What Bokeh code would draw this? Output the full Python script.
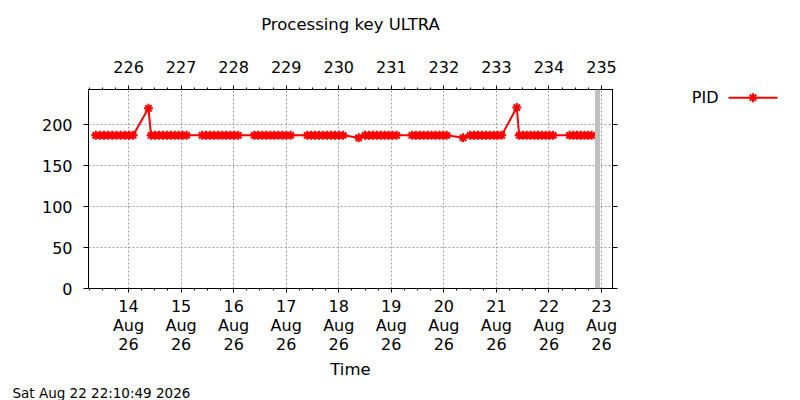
from datetime import datetime, timedelta
from bokeh.plotting import figure
from bokeh.layouts import row
from bokeh.core.properties import value
from bokeh.models import (Range1d, LinearAxis, FixedTicker, Grid, Span, Title,
                          ColumnDataSource)
from bokeh.embed import file_html
from bokeh.resources import INLINE

# ---------------- data ----------------
title_text = "Processing key ULTRA"
series_name = "PID"
x_title = "Time"
footer_text = "Sat Aug 22 22:10:49 2026"
base_time = datetime(2026, 8, 13, 0, 0, 0)
now_time = datetime(2026, 8, 22, 22, 10, 49)
x_start = datetime(2026, 8, 13, 5, 43)
x_end = datetime(2026, 8, 23, 5, 1)
y_start, y_end = 0, 243

# sample times in hours since 13 Aug 2026 00:00
hours_since_aug13 = [
    9.0, 10.9, 12.8, 14.7, 16.6, 18.5, 20.4, 22.3, 24.2, 26.1,
    33.1,
    34.3, 36.1, 37.9, 39.7, 41.5, 43.3, 45.1, 46.9, 48.7, 50.5,
    57.6, 59.4, 61.3, 63.1, 65.0, 66.8, 68.6, 70.5, 72.3, 74.1,
    81.4, 83.2, 85.1, 86.9, 88.8, 90.6, 92.4, 94.3, 96.1, 98.0,
    105.6, 107.4, 109.2, 111.0, 112.9, 114.7, 116.5, 118.3, 120.2, 122.0,
    129.1,
    132.0, 133.8, 135.6, 137.4, 139.2, 141.0, 142.8, 144.6, 146.4,
    153.4, 155.2, 157.0, 158.8, 160.6, 162.4, 164.2, 166.0, 167.7, 169.3,
    176.8,
    180.0, 181.8, 183.6, 185.4, 187.2, 189.0, 190.8, 192.6, 194.4,
    201.3,
    202.4, 204.1, 205.8, 207.6, 209.3, 211.0, 212.7, 214.5, 216.2, 217.9,
    225.4, 227.1, 228.8, 230.5, 232.2, 233.9, 235.5,
]
pid_values = [
    187, 187, 187, 187, 187, 187, 187, 187, 187, 187,
    220,
    187, 187, 187, 187, 187, 187, 187, 187, 187, 187,
    187, 187, 187, 187, 187, 187, 187, 187, 187, 187,
    187, 187, 187, 187, 187, 187, 187, 187, 187, 187,
    187, 187, 187, 187, 187, 187, 187, 187, 187, 187,
    184,
    187, 187, 187, 187, 187, 187, 187, 187, 187,
    187, 187, 187, 187, 187, 187, 187, 187, 187, 187,
    184,
    187, 187, 187, 187, 187, 187, 187, 187, 187,
    221,
    187, 187, 187, 187, 187, 187, 187, 187, 187, 187,
    187, 187, 187, 187, 187, 187, 187,
]

tick_days = [datetime(2026, 8, d) for d in [14, 15, 16, 17, 18, 19, 20, 21, 22, 23]]
bottom_tick_labels = ["14\nAug\n26", "15\nAug\n26", "16\nAug\n26", "17\nAug\n26", "18\nAug\n26",
                      "19\nAug\n26", "20\nAug\n26", "21\nAug\n26", "22\nAug\n26", "23\nAug\n26"]
top_tick_labels = ["226", "227", "228", "229", "230", "231", "232", "233", "234", "235"]
y_ticks = [0, 50, 100, 150, 200]

# ---------------- helpers ----------------
EPOCH = datetime(1970, 1, 1)


def ms(dt):
    return (dt - EPOCH).total_seconds() * 1000.0


FONT = "DejaVu Sans"
RED = "#ff0000"
TICK_FS = "16px"

xs = [ms(base_time + timedelta(hours=h)) for h in hours_since_aug13]
src = ColumnDataSource(dict(t=xs, v=pid_values))

major_x = [ms(d) for d in tick_days]
minor_x = [ms(datetime(2026, 8, 13) + timedelta(hours=6 * k)) for k in range(1, 41)]
xticker = FixedTicker(ticks=major_x, minor_ticks=minor_x)
yticker = FixedTicker(ticks=y_ticks, minor_ticks=[])

TOTAL_W, H = 800, 400
ML, MT, FW, FH = 88, 89, 524, 202
MR = 8
W = ML + FW + MR          # main plot width
LW = TOTAL_W - W          # key strip width
MB = H - MT - FH

p = figure(width=W, height=H, output_backend="svg", toolbar_location=None,
           x_axis_type=None, y_axis_type=None, title=None,
           x_range=Range1d(ms(x_start), ms(x_end)),
           y_range=Range1d(y_start, y_end),
           min_border_left=ML, min_border_right=MR,
           min_border_top=MT, min_border_bottom=MB)
p.background_fill_color = "white"
p.border_fill_color = "white"
p.outline_line_color = "black"
p.outline_line_width = 1


def style_axis(ax, tick_out, standoff):
    ax.axis_line_color = "black"
    ax.axis_line_width = 1
    ax.major_tick_line_color = "black"
    ax.minor_tick_line_color = "black"
    ax.major_tick_in = 0
    ax.major_tick_out = tick_out
    ax.minor_tick_in = 0
    ax.minor_tick_out = 2
    ax.major_label_standoff = standoff
    ax.major_label_text_font = FONT
    ax.major_label_text_font_size = TICK_FS
    ax.major_label_text_color = "black"
    ax.axis_label_text_font = FONT
    ax.axis_label_text_font_style = "normal"
    ax.axis_label_text_font_size = "16.5px"
    ax.axis_label_text_color = "black"


# bottom axis (dates) with the "Time" label
xb = LinearAxis(ticker=xticker,
                major_label_overrides={t: l for t, l in zip(major_x, bottom_tick_labels)},
                axis_label=x_title, axis_label_standoff=3)
style_axis(xb, 4, 4)
xb.major_label_text_line_height = 1.02
p.add_layout(xb, "below")

# footer (time stamp)
p.add_layout(Title(text=footer_text, align="left", offset=-76, standoff=0,
                   text_font=FONT, text_font_size="13.5px", text_font_style="normal",
                   text_color="black"), "below")

# top axis (day of year) carrying the chart title as its label
xt = LinearAxis(ticker=xticker,
                major_label_overrides={t: l for t, l in zip(major_x, top_tick_labels)},
                axis_label=title_text, axis_label_standoff=24)
style_axis(xt, 4, 13)
p.add_layout(xt, "above")

# left axis
yl = LinearAxis(ticker=yticker)
style_axis(yl, 5, 11)
p.add_layout(yl, "left")

# right axis (ticks only)
yr = LinearAxis(ticker=yticker)
style_axis(yr, 5, 0)
yr.major_label_text_font_size = "0px"
yr.major_label_text_color = None
p.add_layout(yr, "right")

# grids
grid_kw = dict(grid_line_color="#a0a0a0", grid_line_width=1, grid_line_dash="2 2")
p.add_layout(Grid(dimension=0, ticker=xticker, **grid_kw))
p.add_layout(Grid(dimension=1, ticker=FixedTicker(ticks=y_ticks[1:]), **grid_kw))

# current-time marker
p.add_layout(Span(location=ms(now_time), dimension="height",
                  line_color="#c0c0c0", line_width=5))

# series
line_style = dict(line_color=RED, line_width=2)
marker_style = dict(marker="asterisk", size=9, line_color=RED, line_width=2)
p.line("t", "v", source=src, **line_style)
p.scatter("t", "v", source=src, **marker_style)

# ---------------- key strip to the right of the plot ----------------
# key strip coordinates are pixels: x from strip's left edge, y down from frame top
KEY_TEXT_RIGHT = 98
KEY_LINE_X0, KEY_LINE_X1 = 108, 157
KEY_Y = 8.3

k = figure(width=LW, height=H, output_backend="svg", toolbar_location=None,
           x_axis_type=None, y_axis_type=None, title=None,
           x_range=Range1d(0, LW), y_range=Range1d(FH, 0),
           min_border_left=0, min_border_right=0,
           min_border_top=MT, min_border_bottom=MB)
k.outline_line_color = None
k.background_fill_color = "white"
k.border_fill_color = "white"
k.text(x=[KEY_TEXT_RIGHT], y=[KEY_Y], text=[series_name], text_align="right",
       text_baseline="middle", text_font=value(FONT), text_font_size=TICK_FS,
       text_color="black")
k.line(x=[KEY_LINE_X0, KEY_LINE_X1], y=[KEY_Y, KEY_Y], **line_style)
k.scatter(x=[(KEY_LINE_X0 + KEY_LINE_X1) / 2], y=[KEY_Y], **marker_style)

layout = row(p, k)
open("out.html", "w").write(file_html(layout, INLINE))
